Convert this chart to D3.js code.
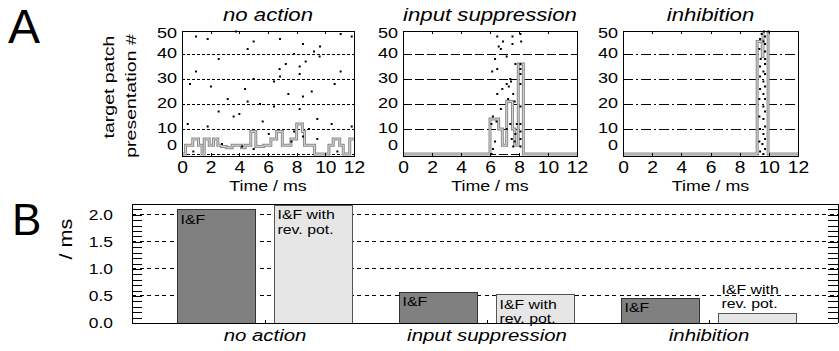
<!DOCTYPE html>
<html>
<head>
<meta charset="utf-8">
<script src="https://cdn.jsdelivr.net/npm/d3@7"></script>
<style>
  body { margin: 0; background: #fff; }
  svg { display: block; font-family: "Liberation Sans", Arial, sans-serif; }
  line, .frame { shape-rendering: crispEdges; }
</style>
</head>
<body>
<script>
// ---- data ----
// panel A: raster dots [time ms, presentation #] and step histograms [bin start ms, count]
const noActionDots = [
  [0.98, 47], [1.79, 46], [3.77, 49], [5.0, 45], [4.58, 42], [2.56, 38], [0.98, 33], [5.0, 30],
  [0.56, 28], [2.02, 27], [4.4, 26], [3.19, 22], [4.58, 21], [5.44, 20], [2.56, 17], [4.0, 16],
  [3.6, 15], [0.4, 12], [1.79, 11], [5.63, 13], [2.79, 4], [4.19, 3], [5.0, 2], [0.79, 1], [6.05, 8],
  [6.84, 46], [8.44, 44], [11.07, 48], [11.84, 47], [9.63, 43], [9.21, 41], [7.82, 40], [9.6, 39],
  [8.63, 37], [7.24, 36], [8.21, 35], [6.81, 34], [8.21, 32], [11.07, 33], [6.84, 31], [6.42, 29],
  [10.65, 28], [9.05, 25], [7.42, 24], [8.44, 23], [6.42, 19], [8.21, 18], [9.44, 14], [10.44, 12],
  [11.84, 11], [8.86, 10], [7.82, 9], [8.44, 7], [9.44, 6], [7.63, 5], [10.84, 1]
];
const noActionHist = [
  [0, 0], [0.25, 3.5], [0.75, 6], [1.15, 3.5], [1.4, 0], [1.55, 6], [1.9, 3.5], [2.2, 6], [2.5, 3.5],
  [2.75, 3], [3.1, 2.5], [3.5, 3.5], [4.15, 2.5], [4.4, 3.5], [4.8, 9], [5.15, 3], [5.7, 3.5],
  [6.2, 6], [6.6, 9], [7.0, 3.5], [7.6, 6], [8.0, 12], [8.4, 9], [8.55, 3.5], [9.25, 0],
  [10.25, 3.5], [10.55, 6], [11.0, 3.5], [11.25, 0], [11.7, 6], [12, 6]
];
const suppressDots = [
  [6.5, 47], [7.55, 47], [8.1, 48], [6.9, 45], [8.15, 45], [7.55, 44], [6.6, 43], [6.75, 42],
  [7.15, 39], [6.35, 38], [7.75, 36], [8.1, 36], [6.15, 33], [6.5, 34], [8.1, 34], [8.1, 32],
  [7.4, 30], [7.45, 29], [7.15, 28], [8.1, 28], [7.3, 27], [6.85, 26], [6.5, 24], [7.6, 24],
  [7.25, 22], [7.7, 21], [6.75, 18], [8.1, 19], [6.2, 15], [6.45, 13], [6.1, 12], [7.4, 12],
  [7.85, 12], [8.1, 12], [7.15, 10], [7.75, 8], [8.1, 9], [7.5, 6], [8.1, 6], [7.7, 5], [6.35, 5],
  [7.6, 3], [8.1, 3], [6.2, 2], [6.1, 0]
];
const suppressHist = [
  [0, 0], [6.0, 14], [6.6, 10], [6.85, 3.5], [7.15, 21], [7.55, 10], [7.7, 3.5], [7.95, 36], [8.3, 0], [12, 0]
];
const inhibDots = [
  [9.97, 49], [9.67, 49], [9.51, 48], [9.74, 47], [9.4, 46], [9.63, 45], [9.74, 44], [9.35, 42],
  [9.74, 41], [9.44, 38], [9.74, 38], [9.74, 36], [9.4, 35], [9.63, 33], [9.74, 32], [9.4, 31],
  [9.63, 29], [9.74, 27], [9.4, 26], [9.63, 24], [9.35, 22], [9.74, 22], [9.63, 19], [9.74, 17],
  [9.35, 15], [9.63, 14], [9.74, 11], [9.4, 10], [9.63, 8], [9.74, 6], [9.35, 5], [9.56, 4],
  [9.74, 2], [9.4, 1], [9.63, 0]
];
const inhibHist = [[0, 0], [9.2, 45], [9.55, 39], [9.6, 52], [9.95, 0], [12, 0]];

const timeTicks = [0, 2, 4, 6, 8, 10, 12];
const presTicks = [0, 10, 20, 30, 40, 50];
const presGrid = [0, 10, 20, 30, 40];

// panel B
const categories = ["no action", "input suppression", "inhibition"];
const seriesKeys = ["I&F", "rev"];
const seriesLabels = [["I&F"], ["I&F with", "rev. pot."]];
const ifValues = [2.09, 0.57, 0.46];
const revValues = [2.18, 0.52, 0.17];
const tauTicks = [0, 0.5, 1.0, 1.5, 2.0];

// ---- setup ----
const width = 839, height = 351;
const svg = d3.select("body").append("svg").attr("width", width).attr("height", height);

// the original type is set wide: stretch text along its reading direction
function wide(sel, sx) {
	sel.each(function() {
		const t = d3.select(this);
		const x = +t.attr("x") || 0, y = +t.attr("y") || 0;
		const rot = t.attr("data-rot");
		t.attr("x", null).attr("y", null)
		 .attr("transform", `translate(${x},${y})${rot ? ` rotate(${rot})` : ""} scale(${sx},1)`);
	});
}

function label(txt, x, y, size, opts = {}) {
	const t = svg.append("text")
	             .attr("x", x).attr("y", y)
	             .attr("font-size", size)
	             .attr("text-anchor", opts.anchor || "start")
	             .attr("font-style", opts.italic ? "italic" : null)
	             .attr("data-rot", opts.rot || null)
	             .text(txt);
	wide(t, opts.sx || 1.2);
	return t;
}

// ---- panel A ----
const aTop = 31, aBottom = 156;
const yA = d3.scaleLinear([-0.8, 49.2], [aBottom, aTop]);

const panelsA = [
	{ title: "no action", x0: 182, x1: 354, dots: noActionDots, hist: noActionHist, dash: "3,2" },
	{ title: "input suppression", x0: 403, x1: 577, dots: suppressDots, hist: suppressHist, dash: "9,3" },
	{ title: "inhibition", x0: 623, x1: 798, dots: inhibDots, hist: inhibHist, dash: "10,3,2,3" },
];

panelsA.forEach((p, pi) => {
	const xs = d3.scaleLinear([0, 12], [p.x0, p.x1]);
	const g = svg.append("g");

	g.append("clipPath").attr("id", `clipA${pi}`)
	 .append("rect").attr("x", p.x0).attr("y", aTop).attr("width", p.x1 - p.x0).attr("height", aBottom - aTop);

	// grid
	g.append("g").selectAll("line").data(presGrid).join("line")
	 .attr("x1", p.x0).attr("x2", p.x1)
	 .attr("y1", d => yA(d)).attr("y2", d => yA(d))
	 .attr("stroke", "#000").attr("stroke-width", 1)
	 .attr("stroke-dasharray", p.dash);

	// histogram
	const step = d3.line().x(d => xs(d[0])).y(d => yA(d[1])).curve(d3.curveStepAfter);
	const hg = g.append("g").attr("clip-path", `url(#clipA${pi})`);
	hg.append("path").attr("d", step(p.hist)).attr("fill", "none")
	  .attr("stroke", "#8c8c8c").attr("stroke-width", 3);
	hg.append("path").attr("d", step(p.hist)).attr("fill", "none")
	  .attr("stroke", "#d6d6d6").attr("stroke-width", 1);

	// raster dots
	g.append("g").selectAll("rect").data(p.dots).join("rect")
	 .attr("x", d => xs(d[0]) - 1).attr("y", d => yA(d[1]) - 1)
	 .attr("width", 2).attr("height", 2).attr("fill", "#000");

	// axes
	const xAxis = g.append("g")
	               .attr("transform", `translate(0,${aBottom})`)
	               .call(d3.axisBottom(xs).tickValues(timeTicks).tickSize(-3).tickPadding(6))
	               .call(a => a.select(".domain").remove())
	               .attr("font-size", 16).attr("font-family", null);
	wide(xAxis.selectAll("text"), 1.2);
	g.append("g")
	 .attr("transform", `translate(0,${aTop})`)
	 .call(d3.axisTop(xs).tickValues(timeTicks).tickSize(-3).tickFormat(""))
	 .call(a => a.select(".domain").remove());

	const yAxis = g.append("g")
	               .attr("transform", `translate(${p.x0},0)`)
	               .call(d3.axisLeft(yA).tickValues(presTicks).tickSize(0).tickPadding(5))
	               .call(a => a.select(".domain").remove())
	               .attr("font-size", 15).attr("font-family", null);
	yAxis.selectAll("text").attr("y", d => Math.min(Math.max(yA(d), 34), 146) - yA(d) - 1);
	wide(yAxis.selectAll("text"), 1.2);

	g.append("rect").attr("class", "frame").attr("x", p.x0).attr("y", aTop)
	 .attr("width", p.x1 - p.x0).attr("height", aBottom - aTop)
	 .attr("fill", "none").attr("stroke", "#000").attr("stroke-width", 1);

	const cx = (p.x0 + p.x1) / 2;
	label(p.title, cx, 21, 18.5, { anchor: "middle", italic: true });
	label("Time / ms", cx, 191, 15.5, { anchor: "middle", sx: 1.15 });
});

label("target patch", 114, 87, 15, { anchor: "middle", rot: -90, sx: 1.3 });
label("presentation #", 136, 96, 15, { anchor: "middle", rot: -90, sx: 1.3 });
label("A", 8, 43, 48, { sx: 1 });

// ---- panel B ----
const bLeft = 132, bRight = 838, bTop = 204, bBottom = 323;
const yB = d3.scaleLinear([0, 2.2], [bBottom, bTop]);
const xB = d3.scaleBand(categories, [154, 820]).padding(0);
const xSub = d3.scaleBand(seriesKeys, [0, xB.bandwidth()]).paddingInner(0.196).paddingOuter(0.242);
const fills = { "I&F": "#808080", "rev": "#e6e6e6" };
const strokes = { "I&F": "#333", "rev": "#555" };

// dashed grid
svg.append("g").selectAll("line").data(tauTicks.filter(d => d > 0)).join("line")
   .attr("x1", bLeft).attr("x2", bRight)
   .attr("y1", d => yB(d)).attr("y2", d => yB(d))
   .attr("stroke", "#000").attr("stroke-dasharray", "4,3.5");

// minor ticks both sides
const minor = d3.range(0, 2.21, 0.1);
svg.append("g").attr("transform", `translate(${bLeft},0)`)
   .call(d3.axisRight(yB).tickValues(minor).tickSize(10).tickFormat(""))
   .call(a => a.select(".domain").remove());
svg.append("g").attr("transform", `translate(${bRight},0)`)
   .call(d3.axisLeft(yB).tickValues(minor).tickSize(10).tickFormat(""))
   .call(a => a.select(".domain").remove());

// bars
const barData = categories.flatMap((c, i) => [
	{ cat: c, key: "I&F", value: ifValues[i], lines: seriesLabels[0] },
	{ cat: c, key: "rev", value: revValues[i], lines: seriesLabels[1] },
]);
svg.append("g").selectAll("rect").data(barData).join("rect")
   .attr("class", "frame")
   .attr("x", d => xB(d.cat) + xSub(d.key))
   .attr("y", d => yB(d.value))
   .attr("width", xSub.bandwidth())
   .attr("height", d => yB(0) - yB(d.value))
   .attr("fill", d => fills[d.key])
   .attr("stroke", d => strokes[d.key]).attr("stroke-width", 1);

barData.forEach(d => {
	const x = xB(d.cat) + xSub(d.key) + 3;
	const top = yB(d.value);
	const h = yB(0) - top;
	let y0 = top + 14;
	if (h < 20) y0 = top - 20;
	d.lines.forEach((ln, li) => label(ln, x, y0 + li * 14.5, 13, { sx: 1.22 }));
});

// axis frame
svg.append("line").attr("x1", bLeft).attr("x2", bRight).attr("y1", bTop).attr("y2", bTop).attr("stroke", "#000");
svg.append("line").attr("x1", bLeft).attr("x2", bLeft).attr("y1", bTop).attr("y2", bBottom).attr("stroke", "#000");
svg.append("line").attr("x1", bRight).attr("x2", bRight).attr("y1", bTop).attr("y2", bBottom).attr("stroke", "#000");

const xAxisB = svg.append("g")
                  .attr("transform", `translate(0,${bBottom})`)
                  .call(d3.axisBottom(xB).tickSize(-3).tickPadding(6))
                  .call(a => a.select(".domain").remove())
                  .attr("font-size", 17).attr("font-family", null).attr("font-style", "italic");
wide(xAxisB.selectAll("text"), 1.2);
svg.append("line").attr("x1", bLeft).attr("x2", bRight).attr("y1", bBottom).attr("y2", bBottom).attr("stroke", "#000");

const yAxisB = svg.append("g")
                  .attr("transform", `translate(${bLeft},0)`)
                  .call(d3.axisLeft(yB).tickValues(tauTicks).tickFormat(d3.format(".1f")).tickSize(0).tickPadding(19))
                  .call(a => a.select(".domain").remove())
                  .attr("font-size", 14.5).attr("font-family", null);
wide(yAxisB.selectAll("text"), 1.2);

label("/ ms", 72, 239, 18, { anchor: "middle", rot: -90, sx: 1.2 });
label("B", 12, 235, 44, { sx: 1 });
</script>
</body>
</html>
